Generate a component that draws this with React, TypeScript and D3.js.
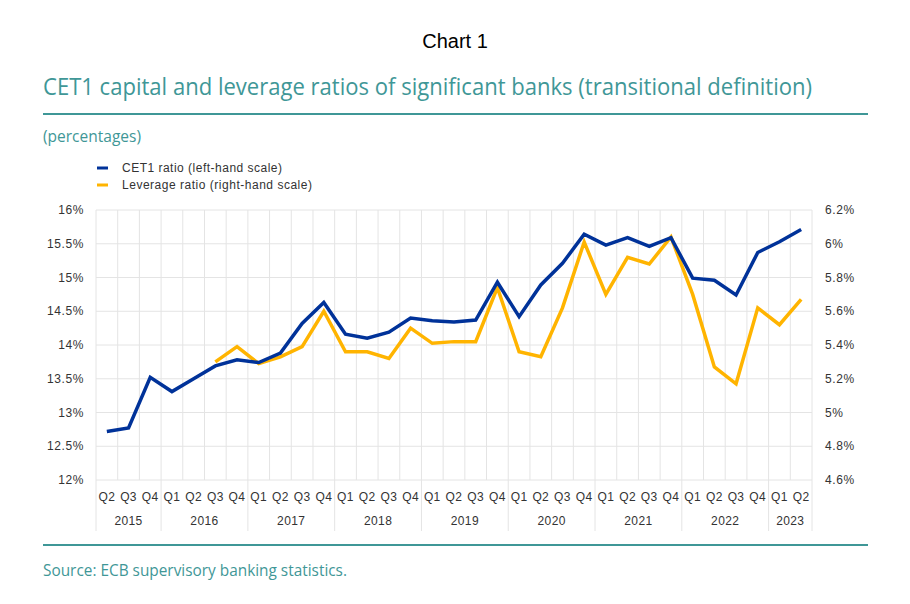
import React from "react";
import * as d3 from "d3";

const quarters = [
  "Q2","Q3","Q4",
  "Q1","Q2","Q3","Q4",
  "Q1","Q2","Q3","Q4",
  "Q1","Q2","Q3","Q4",
  "Q1","Q2","Q3","Q4",
  "Q1","Q2","Q3","Q4",
  "Q1","Q2","Q3","Q4",
  "Q1","Q2","Q3","Q4",
  "Q1","Q2",
];
const years = ["2015","2016","2017","2018","2019","2020","2021","2022","2023"];
const yearCounts = [3, 4, 4, 4, 4, 4, 4, 4, 2];

const cet1 = [
  12.72, 12.77, 13.52,
  13.31, 13.50, 13.69, 13.78,
  13.74, 13.88, 14.32, 14.63,
  14.16, 14.10, 14.19, 14.40,
  14.36, 14.34, 14.37, 14.93,
  14.42, 14.89, 15.21, 15.64,
  15.48, 15.59, 15.46, 15.59,
  14.99, 14.96, 14.74, 15.37,
  15.53, 15.71,
];
const leverage: (number | null)[] = [
  null, null, null,
  null, null, 5.30, 5.39,
  5.29, 5.33, 5.39, 5.60,
  5.36, 5.36, 5.32, 5.50,
  5.41, 5.42, 5.42, 5.74,
  5.36, 5.33, 5.62, 6.01,
  5.70, 5.92, 5.88, 6.04,
  5.70, 5.27, 5.17, 5.62,
  5.52, 5.67,
];
const leftTicks = [12, 12.5, 13, 13.5, 14, 14.5, 15, 15.5, 16];
const rightTicks = [4.6, 4.8, 5.0, 5.2, 5.4, 5.6, 5.8, 6.0, 6.2];

const BLUE = "#003299";
const ORANGE = "#ffb400";
const TEAL = "#3f9797";
const GRID = "#e4e4e4";
const TXT = "#333333";

export default function App() {
  const W = 910, H = 604;
  const x0 = 96, x1 = 812, yTop = 210, yBot = 480;
  const idx = quarters.map((_, i) => i);
  const x = d3.scaleBand<number>().domain(idx).range([x0, x1]).padding(0);
  const yL = d3.scaleLinear().domain([12, 16]).range([yBot, yTop]);
  const yR = d3.scaleLinear().domain([4.6, 6.2]).range([yBot, yTop]);
  const cx = (i: number) => (x(i) as number) + x.bandwidth() / 2;

  const lineL = d3.line<number>().x((_, i) => cx(i)).y((d) => yL(d));
  const levPts = leverage
    .map((v, i) => ({ v, i }))
    .filter((p) => p.v !== null) as { v: number; i: number }[];
  const lineR = d3.line<{ v: number; i: number }>().x((p) => cx(p.i)).y((p) => yR(p.v));

  const fmtL = (v: number) => `${v}%`;
  const fmtR = (v: number) => `${+v.toFixed(1)}%`;

  const bounds: number[] = [0];
  yearCounts.forEach((c) => bounds.push(bounds[bounds.length - 1] + c));
  const edgeX = (k: number) => (k >= quarters.length ? x1 : (x(k) as number));

  const sans = "'Open Sans', sans-serif";
  const arial = "Arial, 'Liberation Sans', sans-serif";
  const ls = 0.6;

  return (
    <svg width={W} height={H} style={{ position: "absolute", left: 0, top: 0, background: "#fff" }}>
      <rect width={W} height={H} fill="#fff" />
      <text x={455} y={48} textAnchor="middle" fontFamily={arial} fontSize={20} fill="#000">Chart 1</text>
      <text x={43} y={95} fontFamily={sans} fontSize={23} fill={TEAL} textLength={769} lengthAdjust="spacingAndGlyphs">
        CET1 capital and leverage ratios of significant banks (transitional definition)
      </text>
      <line x1={43} x2={868} y1={114} y2={114} stroke={TEAL} strokeWidth={2} />
      <text x={43} y={142} fontFamily={sans} fontSize={15.5} fill={TEAL} textLength={98} lengthAdjust="spacingAndGlyphs">(percentages)</text>

      {/* legend */}
      <line x1={97} x2={108} y1={168} y2={168} stroke={BLUE} strokeWidth={3} />
      <text x={122} y={172} fontFamily={arial} fontSize={12} fill={TXT} textLength={160} lengthAdjust="spacing">CET1 ratio (left-hand scale)</text>
      <line x1={97} x2={108} y1={185} y2={185} stroke={ORANGE} strokeWidth={3} />
      <text x={122} y={189} fontFamily={arial} fontSize={12} fill={TXT} textLength={190} lengthAdjust="spacing">Leverage ratio (right-hand scale)</text>

      {/* grid */}
      {leftTicks.map((t) => (
        <line key={"h" + t} x1={x0} x2={x1} y1={yL(t)} y2={yL(t)} stroke={GRID} strokeWidth={1} />
      ))}
      {idx.map((i) => (
        <line key={"v" + i} x1={x(i) as number} x2={x(i) as number} y1={yTop} y2={yBot} stroke={GRID} strokeWidth={1} />
      ))}
      <line x1={x1} x2={x1} y1={yTop} y2={yBot} stroke={GRID} strokeWidth={1} />
      {bounds.map((k) => (
        <line key={"b" + k} x1={edgeX(k)} x2={edgeX(k)} y1={yBot} y2={531} stroke={GRID} strokeWidth={1} />
      ))}

      {/* left axis */}
      {leftTicks.map((t) => (
        <text key={"l" + t} x={84} y={yL(t) + 4} textAnchor="end" fontFamily={arial} fontSize={12} letterSpacing={ls} fill={TXT}>{fmtL(t)}</text>
      ))}
      {/* right axis */}
      {rightTicks.map((t) => (
        <text key={"r" + t} x={825} y={yR(t) + 4} fontFamily={arial} fontSize={12} letterSpacing={ls} fill={TXT}>{fmtR(t)}</text>
      ))}

      {/* x axis labels */}
      {quarters.map((q, i) => (
        <text key={"q" + i} x={cx(i)} y={501} textAnchor="middle" fontFamily={arial} fontSize={12} letterSpacing={0.4} fill={TXT}>{q}</text>
      ))}
      {years.map((yr, k) => (
        <text key={"y" + yr} x={(edgeX(bounds[k]) + edgeX(bounds[k + 1])) / 2} y={525} textAnchor="middle" fontFamily={arial} fontSize={12} letterSpacing={0.4} fill={TXT}>{yr}</text>
      ))}

      {/* lines */}
      <path d={lineR(levPts) || ""} fill="none" stroke={ORANGE} strokeWidth={3.5} strokeLinejoin="miter" />
      <path d={lineL(cet1) || ""} fill="none" stroke={BLUE} strokeWidth={3.5} strokeLinejoin="miter" />

      <line x1={43} x2={868} y1={545} y2={545} stroke={TEAL} strokeWidth={2} />
      <text x={43} y={576} fontFamily={sans} fontSize={15.5} fill={TEAL} textLength={304} lengthAdjust="spacingAndGlyphs">Source: ECB supervisory banking statistics.</text>
    </svg>
  );
}
